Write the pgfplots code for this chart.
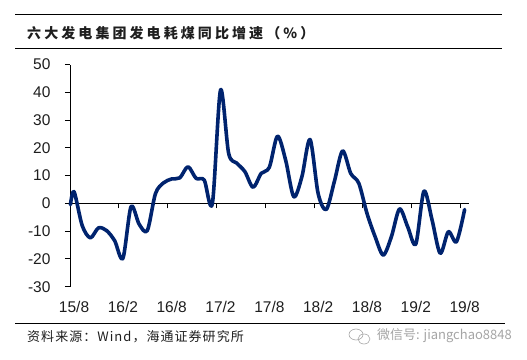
\documentclass[border=0pt]{standalone}
\usepackage{pgfplots}
\pgfplotsset{compat=1.18}
\usepackage{fontspec}
\setmainfont{Liberation Sans}
\newfontfamily\cjk{Noto Sans CJK SC}
\newfontfamily\cjks[LetterSpace=8]{Noto Sans CJK SC}
\newfontfamily\cjkt[LetterSpace=22]{Noto Sans CJK SC}
\definecolor{navy}{RGB}{0,35,110}
\definecolor{txt}{RGB}{30,30,30}
\definecolor{wm}{RGB}{165,165,165}
\begin{document}
\begin{tikzpicture}[x=1pt,y=1pt]
\useasboundingbox (0,0) rectangle (527,359);
% title rules
\draw[line width=1pt] (15,344) -- (502,344);
\draw[line width=1pt] (15,310) -- (502,310);
\node[anchor=west, inner sep=0pt, text=txt] at (27,325.5) {\cjkt\bfseries\fontsize{14}{16}\selectfont 六大发电集团发电耗煤同比增速（\%）};
% bottom rule and source
\draw[line width=1pt] (15,35.7) -- (505,35.7);
\node[anchor=west, inner sep=0pt, text=txt] at (27,22.3) {\cjks\fontsize{13}{15}\selectfont 资料来源：Wind，海通证券研究所};
% watermark
\draw[wm, line width=0.6pt] (356,24.5) ellipse (7pt and 5.5pt);
\draw[wm, line width=0.6pt] (364,20) ellipse (6pt and 5pt);
\node[anchor=west, inner sep=0pt, text=wm] at (377,23.3) {\cjk\fontsize{13}{15}\selectfont 微信号: jiangchao8848};
\begin{axis}[
  at={(70pt,72.3pt)}, anchor=south west,
  scale only axis, width=398.7pt, height=222.2pt,
  xmin=-0.5, xmax=48.5, ymin=-30, ymax=50,
  axis x line=middle, axis y line=left,
  axis line style={line width=0.9pt, -},
  ytick={-30,-20,...,50},
  yticklabel style={xshift=-11pt},
  xtick={5.5,11.5,...,47.5}, xticklabels={},
  extra x ticks={0,6,...,48},
  extra x tick labels={15/8,16/2,16/8,17/2,17/8,18/2,18/8,19/2,19/8},
  extra x tick style={major tick length=0pt, xticklabel style={anchor=base, yshift=-109pt}},
  tick align=outside, major tick length=5pt,
  tick style={black, line width=0.9pt},
  ticklabel style={font=\fontsize{15.5}{16}\selectfont, text=txt},
  /pgf/number format/assume math mode=true,
  clip=false,
]
\addplot[navy, line width=3.6pt, smooth, tension=0.5, line join=round, line cap=round] coordinates {
(-0.45,-0.5)(0,4.2)(1,-8)(2,-12.4)(3,-8.8)(4,-9.8)(5,-13.5)(6,-19.8)(7,-1.2)(8,-7.5)(9,-9.8)(10,3.5)(11,7.4)(12,8.8)(13,9.2)(14,13.2)(15,9)(16,8.4)(17,0)(18,40.8)(19,18)(20,14.5)(21,11.4)(22,5.8)(23,10.8)(24,13)(25,24.2)(26,15.6)(27,2.4)(28,9.6)(29,23)(30,3.5)(31,-2.2)(32,8)(33,18.9)(34,10.8)(35,7.2)(36,-3.6)(37,-12)(38,-18.6)(39,-12)(40,-2)(41,-8.4)(42,-14.6)(43,4.4)(44,-6)(45,-18)(46,-10.2)(47,-13.8)(48,-2.2)
};
\end{axis}
\end{tikzpicture}
\end{document}
